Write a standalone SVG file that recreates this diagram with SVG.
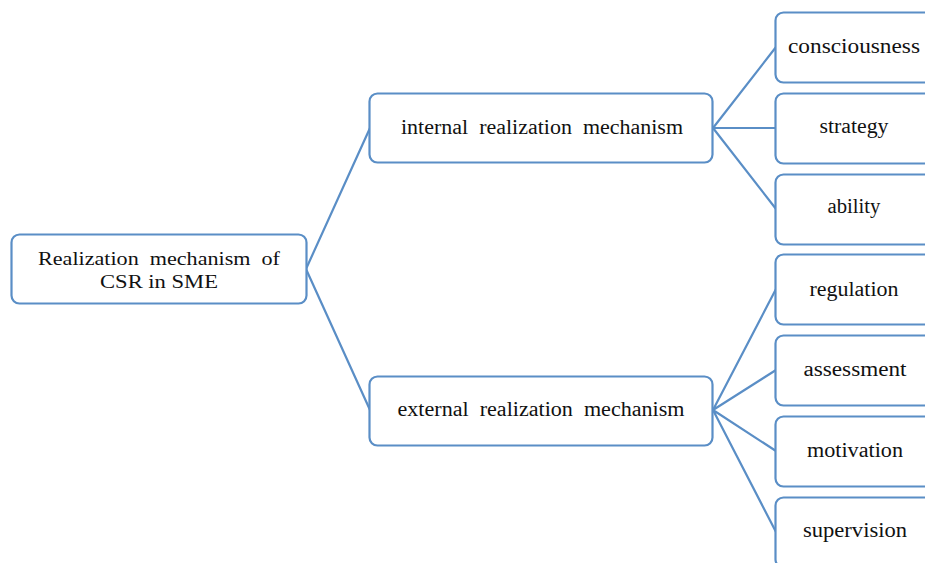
<svg xmlns="http://www.w3.org/2000/svg" width="925" height="563" viewBox="0 0 925 563">
<style>
.box{fill:#fff;stroke:#5a8ec6;stroke-width:2.2}
.t{font-family:"Liberation Serif","Times New Roman",serif;font-size:20px;fill:#111;text-anchor:middle}
.s{font-size:19px}
.c{stroke:#5a8ec6;stroke-width:2.2;fill:none}
</style>
<rect width="925" height="563" fill="#fff"/>
<g id="connectors">
<path class="c" d="M306 269 L370 128 M306 269 L370 410"/>
<path class="c" d="M713 128 L776 47 M713 128 L776 128 M713 128 L776 209"/>
<path class="c" d="M713 410 L776 289 M713 410 L776 370 M713 410 L776 451 M713 410 L776 532"/>
</g>
<g id="root"><rect class="box" x="11.5" y="234.5" width="295" height="69" rx="8"/>
<text class="t s" x="159" y="265" xml:space="preserve" textLength="242" lengthAdjust="spacingAndGlyphs">Realization  mechanism  of</text>
<text class="t s" x="159" y="288" textLength="118" lengthAdjust="spacingAndGlyphs">CSR in SME</text></g>
<g id="internal"><rect class="box" x="369.5" y="93.5" width="343" height="69" rx="8"/>
<text class="t" x="542" y="134" xml:space="preserve" textLength="282" lengthAdjust="spacingAndGlyphs">internal  realization  mechanism</text></g>
<g id="external"><rect class="box" x="369.5" y="376.5" width="343" height="69" rx="8"/>
<text class="t" x="541" y="416" xml:space="preserve" textLength="287" lengthAdjust="spacingAndGlyphs">external  realization  mechanism</text></g>
<g id="consciousness"><rect class="box" x="775.5" y="12.5" width="170" height="70" rx="8"/><text class="t" x="854" y="53" textLength="132" lengthAdjust="spacingAndGlyphs">consciousness</text></g>
<g id="strategy"><rect class="box" x="775.5" y="93.5" width="170" height="70" rx="8"/><text class="t" x="854" y="133" textLength="69" lengthAdjust="spacingAndGlyphs">strategy</text></g>
<g id="ability"><rect class="box" x="775.5" y="174.5" width="170" height="70" rx="8"/><text class="t" x="854" y="213" textLength="53" lengthAdjust="spacingAndGlyphs">ability</text></g>
<g id="regulation"><rect class="box" x="775.5" y="254.5" width="170" height="70" rx="8"/><text class="t" x="854" y="296" textLength="89" lengthAdjust="spacingAndGlyphs">regulation</text></g>
<g id="assessment"><rect class="box" x="775.5" y="335.5" width="170" height="70" rx="8"/><text class="t" x="855" y="376" textLength="103" lengthAdjust="spacingAndGlyphs">assessment</text></g>
<g id="motivation"><rect class="box" x="775.5" y="416.5" width="170" height="70" rx="8"/><text class="t" x="855" y="457" textLength="96" lengthAdjust="spacingAndGlyphs">motivation</text></g>
<g id="supervision"><rect class="box" x="775.5" y="497.5" width="170" height="70" rx="8"/><text class="t" x="855" y="537" textLength="104" lengthAdjust="spacingAndGlyphs">supervision</text></g>
</svg>
